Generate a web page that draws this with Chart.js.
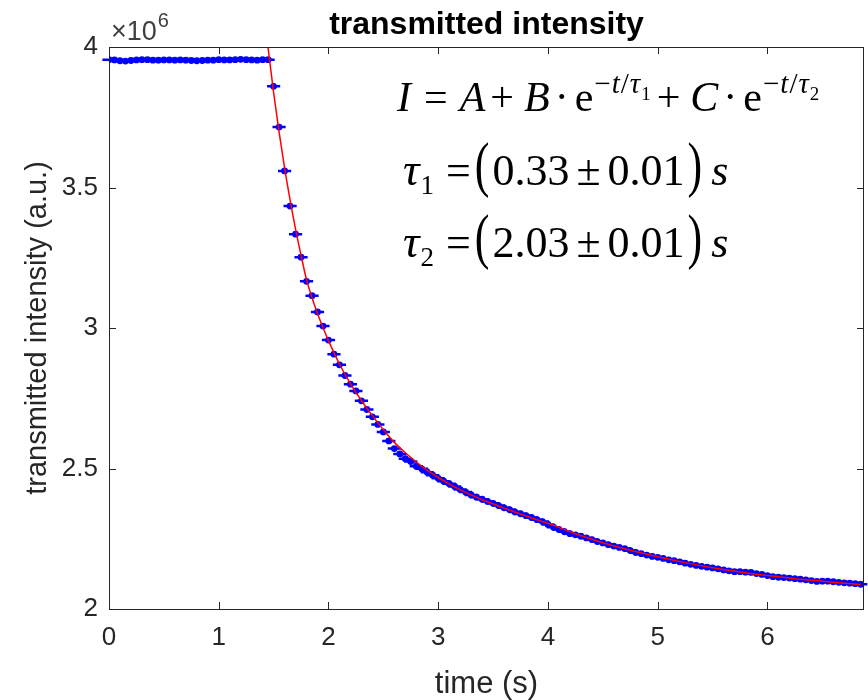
<!DOCTYPE html>
<html>
<head>
<meta charset="utf-8">
<script src="https://cdn.jsdelivr.net/npm/chart.js@4.4.1/dist/chart.umd.min.js"></script>
<style>
  html, body { margin: 0; padding: 0; background: #fff; }
  #wrap { width: 868px; height: 700px; position: relative; }
</style>
</head>
<body>
<div id="wrap"><canvas id="chart"></canvas></div>
<script>
// measured samples (time in s, intensity in units of 10^6 a.u.)
const timeS = [
  0, 0.05, 0.1, 0.15, 0.2, 0.25, 0.3, 0.35, 0.4, 0.45,
  0.5, 0.55, 0.6, 0.65, 0.7, 0.75, 0.8, 0.85, 0.9, 0.95,
  1, 1.05, 1.1, 1.15, 1.2, 1.25, 1.3, 1.35, 1.4, 1.45,
  1.5, 1.55, 1.6, 1.65, 1.7, 1.75, 1.8, 1.85, 1.9, 1.95,
  2, 2.05, 2.1, 2.15, 2.2, 2.25, 2.3, 2.35, 2.4, 2.45,
  2.5, 2.55, 2.6, 2.65, 2.7, 2.75, 2.8, 2.85, 2.9, 2.95,
  3, 3.05, 3.1, 3.15, 3.2, 3.25, 3.3, 3.35, 3.4, 3.45,
  3.5, 3.55, 3.6, 3.65, 3.7, 3.75, 3.8, 3.85, 3.9, 3.95,
  4, 4.05, 4.1, 4.15, 4.2, 4.25, 4.3, 4.35, 4.4, 4.45,
  4.5, 4.55, 4.6, 4.65, 4.7, 4.75, 4.8, 4.85, 4.9, 4.95,
  5, 5.05, 5.1, 5.15, 5.2, 5.25, 5.3, 5.35, 5.4, 5.45,
  5.5, 5.55, 5.6, 5.65, 5.7, 5.75, 5.8, 5.85, 5.9, 5.95,
  6, 6.05, 6.1, 6.15, 6.2, 6.25, 6.3, 6.35, 6.4, 6.45,
  6.5, 6.55, 6.6, 6.65, 6.7, 6.75, 6.8, 6.85
];
const intensity = [
  3.955, 3.954, 3.951, 3.950, 3.952, 3.954, 3.955, 3.955, 3.953, 3.953,
  3.954, 3.954, 3.953, 3.954, 3.953, 3.952, 3.951, 3.952, 3.953, 3.953,
  3.955, 3.954, 3.954, 3.955, 3.956, 3.955, 3.954, 3.953, 3.955, 3.955,
  3.860, 3.715, 3.559, 3.434, 3.334, 3.252, 3.166, 3.115, 3.057, 3.007,
  2.957, 2.907, 2.869, 2.831, 2.800, 2.776, 2.741, 2.710, 2.684, 2.657,
  2.630, 2.598, 2.571, 2.552, 2.535, 2.525, 2.508, 2.499, 2.487, 2.476,
  2.465, 2.455, 2.446, 2.436, 2.425, 2.416, 2.406, 2.398, 2.391, 2.383,
  2.376, 2.368, 2.360, 2.354, 2.345, 2.339, 2.332, 2.326, 2.318, 2.311,
  2.301, 2.291, 2.283, 2.275, 2.268, 2.264, 2.259, 2.253, 2.247, 2.240,
  2.235, 2.229, 2.224, 2.219, 2.215, 2.208, 2.201, 2.197, 2.192, 2.187,
  2.184, 2.180, 2.175, 2.172, 2.168, 2.163, 2.159, 2.155, 2.152, 2.149,
  2.146, 2.143, 2.139, 2.136, 2.133, 2.133, 2.131, 2.130, 2.126, 2.123,
  2.119, 2.115, 2.113, 2.112, 2.110, 2.108, 2.106, 2.104, 2.101, 2.098,
  2.099, 2.099, 2.097, 2.095, 2.093, 2.092, 2.090, 2.088
];
const timeErr = 0.06; // +/- s, horizontal error bars

// fitted double exponential
const fitTime = [
  1.40, 1.45, 1.50, 1.55, 1.60, 1.65, 1.70, 1.75, 1.80, 1.85, 1.90, 1.95, 2.00,
  2.10, 2.20, 2.30, 2.40, 2.50, 2.60, 2.70, 2.80, 2.90, 3.00, 3.10, 3.20, 3.30,
  3.40, 3.50, 3.60, 3.70, 3.80, 3.90, 4.00, 4.25, 4.50, 4.75, 5.00, 5.25, 5.50,
  5.75, 6.00, 6.25, 6.50, 6.85
];
const fitIntensity = [
  4.170, 3.995, 3.838, 3.697, 3.570, 3.456, 3.352, 3.259, 3.172, 3.108, 3.052, 3.002, 2.955,
  2.872, 2.802, 2.742, 2.688, 2.638, 2.593, 2.556, 2.523, 2.494, 2.468, 2.445, 2.424, 2.406,
  2.389, 2.374, 2.359, 2.345, 2.331, 2.318, 2.305, 2.268, 2.236, 2.209, 2.186, 2.165, 2.147,
  2.132, 2.119, 2.108, 2.099, 2.087
];

const xTicks = [0, 1, 2, 3, 4, 5, 6];
const yTicks = [2, 2.5, 3, 3.5, 4];

const AXIS_COLOR = '#262626';
const SANS = '"Liberation Sans", Arial, Helvetica, sans-serif';
const SERIF = '"Liberation Serif", "Times New Roman", serif';

const points = timeS.map((t, i) => ({ x: t, y: intensity[i] }));
const fitPoints = fitTime.map((t, i) => ({ x: t, y: fitIntensity[i] }));

// horizontal error bars, drawn under the markers
const errorBars = {
  id: 'errorBars',
  beforeDatasetsDraw(chart) {
    const { ctx, scales: { x, y } } = chart;
    ctx.save();
    ctx.strokeStyle = '#0000ff';
    ctx.lineWidth = 2.5;
    ctx.beginPath();
    points.forEach(p => {
      const py = y.getPixelForValue(p.y);
      ctx.moveTo(x.getPixelForValue(p.x - timeErr), py);
      ctx.lineTo(x.getPixelForValue(p.x + timeErr), py);
    });
    ctx.stroke();
    ctx.restore();
  }
};

// matlab style box with inward ticks
const axesBox = {
  id: 'axesBox',
  afterDatasetsDraw(chart) {
    const { ctx, chartArea: a, scales: { x, y } } = chart;
    const len = 7;
    ctx.save();
    ctx.strokeStyle = AXIS_COLOR;
    ctx.lineWidth = 1;
    ctx.strokeRect(Math.round(a.left) + 0.5, Math.round(a.top) + 0.5,
      Math.round(a.right - a.left) - 1, Math.round(a.bottom - a.top));
    ctx.beginPath();
    xTicks.forEach(v => {
      const px = Math.round(x.getPixelForValue(v)) + 0.5;
      ctx.moveTo(px, a.bottom); ctx.lineTo(px, a.bottom - len);
      ctx.moveTo(px, a.top); ctx.lineTo(px, a.top + len);
    });
    yTicks.forEach(v => {
      const py = Math.round(y.getPixelForValue(v)) + 0.5;
      ctx.moveTo(a.left, py); ctx.lineTo(a.left + len, py);
      ctx.moveTo(a.right, py); ctx.lineTo(a.right - len, py);
    });
    ctx.stroke();
    ctx.restore();
  }
};

// text run helper for the formula lines
function flow(ctx, x, y, parts) {
  parts.forEach(p => {
    x += p.pre || 0;
    ctx.font = p.f;
    const w = ctx.measureText(p.t).width;
    if (p.sy) {
      const size = parseFloat(p.f.match(/(\d+)px/)[1]);
      const cy = y - 0.27 * size;
      ctx.save();
      ctx.translate(x, cy);
      ctx.scale(1, p.sy);
      ctx.fillText(p.t, 0, (y - cy) / p.sy + (p.dy || 0));
      ctx.restore();
    } else {
      ctx.fillText(p.t, x, y + (p.dy || 0));
    }
    x += w;
  });
  return x;
}

const labels = {
  id: 'labels',
  afterDraw(chart) {
    const { ctx, chartArea: a } = chart;
    const cx = (a.left + a.right) / 2;
    ctx.save();
    ctx.fillStyle = '#000';
    ctx.textAlign = 'center';
    ctx.textBaseline = 'alphabetic';
    ctx.font = 'bold 32px ' + SANS;
    ctx.fillText('transmitted intensity', cx, 34);

    ctx.fillStyle = AXIS_COLOR;
    ctx.font = '31px ' + SANS;
    ctx.textBaseline = 'middle';
    ctx.fillText('time (s)', cx, 684);
    ctx.font = '29px ' + SANS;
    ctx.save();
    ctx.translate(38, (a.top + a.bottom) / 2);
    ctx.rotate(-Math.PI / 2);
    ctx.fillText('transmitted intensity (a.u.)', 0, 0);
    ctx.restore();

    // exponent marker
    ctx.fillStyle = '#404040';
    ctx.textAlign = 'left';
    ctx.textBaseline = 'alphabetic';
    const ex = flow(ctx, 111, 40, [{ t: '\u00d710', f: '27px ' + SANS }]);
    flow(ctx, ex + 1, 27, [{ t: '6', f: '20px ' + SANS }]);

    // formula
    ctx.fillStyle = '#000';
    const R = s => s + 'px ' + SERIF;
    const I = s => 'italic ' + s + 'px ' + SERIF;
    const sup = (n) => [
      { t: '\u2212', f: R(29), dy: -18, pre: 1 },
      { t: 't', f: I(29), dy: -18, pre: 1 },
      { t: '/', f: R(29), dy: -18, pre: 1 },
      { t: '\u03c4', f: I(29), dy: -18, pre: 1 },
      { t: n, f: R(19), dy: -11, pre: 1 }
    ];
    flow(ctx, 397, 111, [
      { t: 'I', f: I(42) },
      { t: '=', f: R(42), pre: 13 },
      { t: 'A', f: I(42), pre: 12 },
      { t: '+', f: R(42), pre: 5 },
      { t: 'B', f: I(42), pre: 10 },
      { t: '\u00b7', f: R(42), pre: 5 },
      { t: 'e', f: R(42), pre: 6 },
      ...sup('1'),
      { t: '+', f: R(42), pre: 6 },
      { t: 'C', f: I(42), pre: 10 },
      { t: '\u00b7', f: R(42), pre: 5 },
      { t: 'e', f: R(42), pre: 6 },
      ...sup('2')
    ]);
    const tauLine = (y, n, val) => flow(ctx, 403, y, [
      { t: '\u03c4', f: I(46) },
      { t: n, f: R(27), dy: 9, pre: 1 },
      { t: '=', f: R(44), pre: 12 },
      { t: '(', f: R(44), sy: 1.4, pre: 4 },
      { t: val, f: R(44), pre: 3 },
      { t: '\u00b1', f: R(44), pre: 7 },
      { t: '0.01', f: R(44), pre: 7 },
      { t: ')', f: R(44), sy: 1.4, pre: 3 },
      { t: 's', f: I(44), pre: 9 }
    ]);
    tauLine(185, '1', '0.33');
    tauLine(257, '2', '2.03');
    ctx.restore();
  }
};

new Chart(document.getElementById('chart'), {
  type: 'scatter',
  data: {
    datasets: [
      {
        label: 'fit',
        data: fitPoints,
        showLine: true,
        borderColor: '#ff0000',
        borderWidth: 1.5,
        pointRadius: 0,
        cubicInterpolationMode: 'monotone',
        order: 0
      },
      {
        label: 'data',
        data: points,
        showLine: false,
        pointRadius: 3.4,
        pointBackgroundColor: '#0000ff',
        pointBorderWidth: 0,
        order: 1
      }
    ]
  },
  options: {
    responsive: true,
    maintainAspectRatio: false,
    animation: false,
    layout: { padding: { top: 47, right: 1, left: 0, bottom: 0 } },
    plugins: { legend: { display: false }, tooltip: { enabled: false } },
    scales: {
      x: {
        type: 'linear',
        min: 0,
        max: 6.88,
        grid: { display: false, drawTicks: false },
        border: { display: false },
        afterBuildTicks: s => { s.ticks = xTicks.map(v => ({ value: v })); },
        afterFit: s => { s.height = 91; },
        ticks: {
          padding: 13, color: AXIS_COLOR, autoSkip: false, maxRotation: 0,
          font: { family: SANS, size: 26 },
          callback: v => String(v)
        }
      },
      y: {
        min: 2,
        max: 4,
        grid: { display: false, drawTicks: false },
        border: { display: false },
        afterBuildTicks: s => { s.ticks = yTicks.map(v => ({ value: v })); },
        afterFit: s => { s.width = 109; },
        ticks: {
          padding: 11, color: AXIS_COLOR, autoSkip: false,
          font: { family: SANS, size: 26 },
          callback: v => String(v)
        }
      }
    }
  },
  plugins: [errorBars, axesBox, labels]
});
</script>
</body>
</html>
